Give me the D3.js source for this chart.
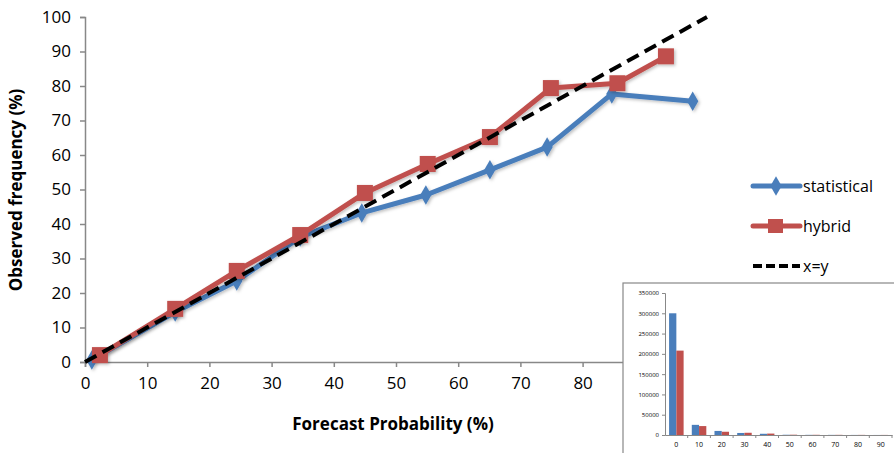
<!DOCTYPE html>
<html><head><meta charset="utf-8">
<script src="https://cdn.jsdelivr.net/npm/d3@7"></script>
<style>body{margin:0;background:#fff}svg{display:block}text{font-family:"Open Sans","Liberation Sans",sans-serif}</style>
</head><body><svg id="c" width="894" height="453"></svg>
<script>
const statX = [1.1, 14.5, 24.4, 34.6, 44.5, 54.8, 65.1, 74.3, 84.7, 97.7];
const statY = [0.6, 14.5, 23.5, 36.2, 43.2, 48.4, 55.7, 62.3, 77.7, 75.6];
const hybX = [2.4, 14.5, 24.4, 34.6, 45.0, 55.1, 65.1, 74.9, 85.6, 93.4];
const hybY = [2.0, 15.4, 26.4, 36.8, 49.0, 57.4, 65.2, 79.4, 80.8, 88.6];
const diagonal = [0, 100];
const xTicks = [0,10,20,30,40,50,60,70,80];
const yTicks = [0,10,20,30,40,50,60,70,80,90,100];
const seriesNames = ["statistical", "hybrid", "x=y"];
const histCats = ["0","10","20","30","40","50","60","70","80","90"];
const histStat = [300000, 25000, 10000, 5000, 3000, 600, 400, 300, 200, 100];
const histHyb = [208000, 22000, 8000, 5500, 3500, 700, 500, 400, 300, 200];
const histTicks = [0,50000,100000,150000,200000,250000,300000,350000];

const svg = d3.select("#c");
const blue = "#4A7EBB", red = "#C0504D";
const x = d3.scaleLinear().domain([0,100]).range([85,707]);
const y = d3.scaleLinear().domain([0,100]).range([362,17]);

// axes
const gx = svg.append("g").attr("transform","translate(0,362)")
  .call(d3.axisBottom(x).tickValues(xTicks).tickSize(5).tickPadding(10));
const gy = svg.append("g").attr("transform","translate(85,0)")
  .call(d3.axisLeft(y).tickValues(yTicks).tickSize(5).tickPadding(9));
[gx,gy].forEach(g=>{
  g.select(".domain").attr("stroke","#888").attr("stroke-width",1.5);
  g.selectAll(".tick line").attr("stroke","#888").attr("stroke-width",1.5);
  g.selectAll(".tick text").attr("font-size",17).attr("fill","#000");
});
svg.append("text").attr("x",393).attr("y",430).attr("text-anchor","middle")
  .attr("font-size",17).attr("font-weight","bold").text("Forecast Probability (%)");
svg.append("text").attr("transform","translate(22,190) rotate(-90)").attr("text-anchor","middle")
  .attr("font-size",17).attr("font-weight","bold").text("Observed frequency (%)");

const line = d3.line().x(d=>x(d[0])).y(d=>y(d[1]));
const sData = statX.map((v,i)=>[v,statY[i]]);
const hData = hybX.map((v,i)=>[v,hybY[i]]);

const defs = svg.append("defs");
const f = defs.append("filter").attr("id","sh").attr("x","-20%").attr("y","-20%").attr("width","140%").attr("height","140%");
f.append("feDropShadow").attr("dx",1.5).attr("dy",1.5).attr("stdDeviation",1.5).attr("flood-color","#000").attr("flood-opacity",0.25);

const gs = svg.append("g").attr("filter","url(#sh)");
gs.append("path").datum(sData).attr("d",line).attr("fill","none").attr("stroke",blue).attr("stroke-width",5).attr("stroke-linejoin","round");
const diamond = d3.symbol().type(d3.symbolDiamond).size(110);
gs.selectAll(".sd").data(sData).join("path").attr("d",diamond)
  .attr("transform",d=>`translate(${x(d[0])},${y(d[1])})`).attr("fill",blue);

const gh = svg.append("g").attr("filter","url(#sh)");
gh.append("path").datum(hData).attr("d",line).attr("fill","none").attr("stroke",red).attr("stroke-width",5).attr("stroke-linejoin","round");
gh.selectAll(".hs").data(hData).join("rect")
  .attr("x",d=>x(d[0])-8).attr("y",d=>y(d[1])-8).attr("width",16).attr("height",16).attr("fill",red);

svg.append("line").attr("x1",x(diagonal[0])).attr("y1",y(diagonal[0])).attr("x2",x(diagonal[1])).attr("y2",y(diagonal[1]))
  .attr("stroke","#000").attr("stroke-width",4).attr("stroke-dasharray","13,7");

// legend
const lg = svg.append("g");
const ly = [186, 226, 266];
lg.append("line").attr("x1",753).attr("x2",800).attr("y1",ly[0]).attr("y2",ly[0]).attr("stroke",blue).attr("stroke-width",5).attr("stroke-linecap","round");
lg.append("path").attr("d",diamond).attr("transform",`translate(776,${ly[0]})`).attr("fill",blue);
lg.append("line").attr("x1",753).attr("x2",800).attr("y1",ly[1]).attr("y2",ly[1]).attr("stroke",red).attr("stroke-width",5).attr("stroke-linecap","round");
lg.append("rect").attr("x",768).attr("y",ly[1]-7).attr("width",15).attr("height",14).attr("fill",red);
lg.append("line").attr("x1",753).attr("x2",800).attr("y1",ly[2]).attr("y2",ly[2]).attr("stroke","#000").attr("stroke-width",4).attr("stroke-dasharray","9,4");
seriesNames.forEach((n,i)=>lg.append("text").attr("x",803).attr("y",ly[i]+6).attr("font-size",16).text(n));

// inset histogram
const ins = svg.append("g");
ins.append("rect").attr("x",623).attr("y",283).attr("width",280).attr("height",180).attr("fill","#fff").attr("stroke","#888").attr("stroke-width",1.2);
const hx = d3.scaleBand().domain(histCats).range([665,892]).paddingInner(0.36).paddingOuter(0.18);
const hy = d3.scaleLinear().domain([0,350000]).range([435,293]);
const hsub = d3.scaleBand().domain([0,1]).range([0,hx.bandwidth()]);
const iy = ins.append("g").attr("transform","translate(665,0)").call(d3.axisLeft(hy).tickValues(histTicks).tickFormat(d3.format("d")).tickSize(3).tickPadding(3));
iy.selectAll("text").attr("font-size",6).attr("fill","#000");
const ix = ins.append("g").attr("transform","translate(0,435)").call(d3.axisBottom(hx).tickSize(0).tickPadding(7));
ix.selectAll("text").attr("font-size",7).attr("fill","#000");
histCats.forEach(c=>ix.append("line").attr("x1",hx(c)+hx.bandwidth()+hx.step()*hx.paddingInner()/2).attr("x2",hx(c)+hx.bandwidth()+hx.step()*hx.paddingInner()/2).attr("y1",0).attr("y2",3).attr("stroke","#888"));
[iy,ix].forEach(g=>{g.select(".domain").attr("stroke","#888");g.selectAll(".tick line").attr("stroke","#888");});
ins.selectAll(".bs").data(histCats).join("rect").attr("x",c=>hx(c)+hsub(0)).attr("width",hsub.bandwidth())
  .attr("y",(c,i)=>hy(histStat[i])).attr("height",(c,i)=>435-hy(histStat[i])).attr("fill",blue);
ins.selectAll(".bh").data(histCats).join("rect").attr("x",c=>hx(c)+hsub(1)).attr("width",hsub.bandwidth())
  .attr("y",(c,i)=>hy(histHyb[i])).attr("height",(c,i)=>435-hy(histHyb[i])).attr("fill",red);
</script></body></html>
